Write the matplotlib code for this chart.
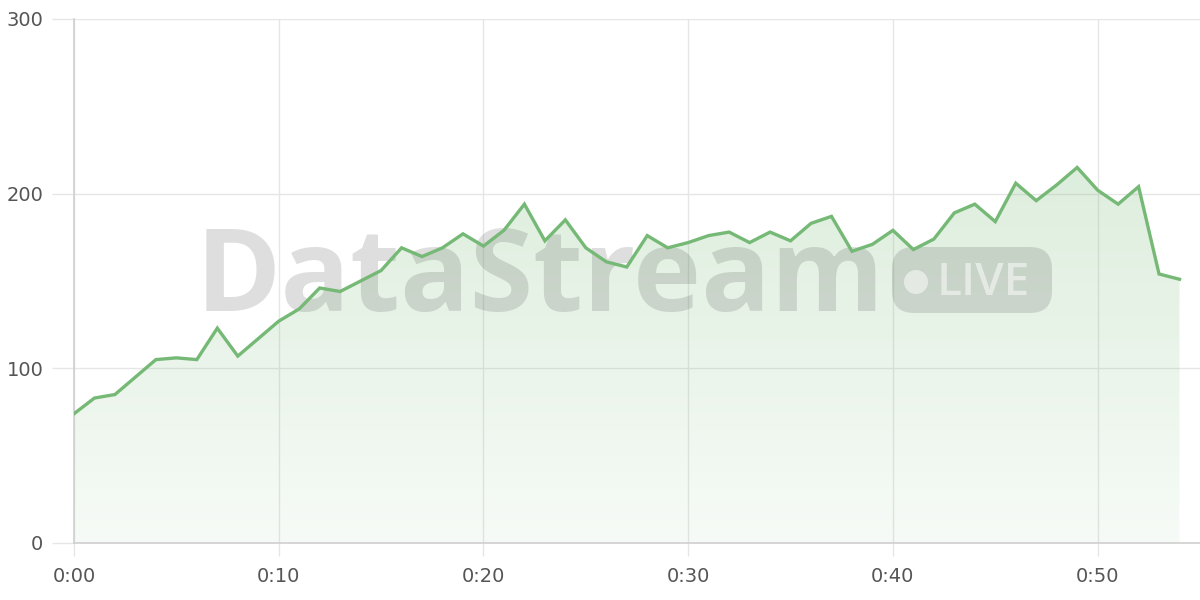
import matplotlib
matplotlib.use("Agg")
import matplotlib.pyplot as plt
import numpy as np
from matplotlib.patches import FancyBboxPatch, Circle
from matplotlib.colors import LinearSegmentedColormap
from matplotlib.transforms import IdentityTransform

minutes = list(range(55))
values = [74, 83, 85, 95, 105, 106, 105, 123, 107, 117,
          127, 134, 146, 144, 150, 156, 169, 164, 169, 177,
          170, 179, 194, 173, 185, 169, 161, 158, 176, 169,
          172, 176, 178, 172, 178, 173, 183, 187, 167, 171,
          179, 168, 174, 189, 194, 184, 206, 196, 205, 215,
          202, 194, 204, 154, 151]
x_ticks = [0, 10, 20, 30, 40, 50]
x_labels = ["0:00", "0:10", "0:20", "0:30", "0:40", "0:50"]
y_ticks = [0, 100, 200, 300]

line_color = "#76b976"
grid_color = "#e6e6e6"
spine_color = "#cfcfcf"
label_color = "#555555"

fig = plt.figure(figsize=(12, 6), dpi=100)
ax = fig.add_axes([74/1200, 57/600, 1126/1200, 524/600])
ax.set_xlim(0, 55)
ax.set_ylim(0, 300)

x = np.array(minutes, dtype=float)
y = np.array(values, dtype=float)

# gradient fill
poly = ax.fill_between(x, y, 0, color="none", lw=0)
top = float(y.max())
cmap = LinearSegmentedColormap.from_list(
    "g", [(0.45, 0.72, 0.45, 0.06), (0.45, 0.72, 0.45, 0.24)])
grad = np.linspace(0, 1, 256).reshape(-1, 1)
im = ax.imshow(grad, cmap=cmap, aspect="auto", origin="lower",
               extent=(0, x.max(), 0, top), zorder=1)
path = poly.get_paths()[0]
im.set_clip_path(path, transform=ax.transData)

ax.plot(x, y, color=line_color, lw=2.4, zorder=5, solid_joinstyle="miter")

ax.set_xticks(x_ticks)
ax.set_xticklabels(x_labels)
ax.set_yticks(y_ticks)
ax.grid(True, color=grid_color, lw=1.0, zorder=0)
ax.set_axisbelow(True)
ax.tick_params(axis="y", length=16, color=grid_color, width=1.0,
               labelsize=14, labelcolor=label_color, pad=6)
ax.tick_params(axis="x", length=9, color=grid_color, width=1.0,
               labelsize=14, labelcolor=label_color, pad=8)
for s in ["top", "right"]:
    ax.spines[s].set_visible(False)
ax.spines["left"].set_color(spine_color)
ax.spines["bottom"].set_color(spine_color)
ax.spines["left"].set_linewidth(1.2)
ax.spines["bottom"].set_linewidth(1.2)

# watermark (pixel coordinates, origin bottom-left), drawn beneath the line
H = 600
wm_color = (0.3, 0.3, 0.3, 0.18)
ax.text(540, H - 311, "DataStream", fontsize=83, fontweight="bold",
        family="Open Sans", color=wm_color, ha="center", va="baseline",
        transform=IdentityTransform(), zorder=3, clip_on=False)
box = FancyBboxPatch((892, H - 313), 160, 66,
                     boxstyle="round,pad=0,rounding_size=22",
                     transform=IdentityTransform(), facecolor=wm_color,
                     edgecolor="none", zorder=3, clip_on=False)
ax.add_artist(box)
ax.text(983, H - 295, "LIVE", fontsize=33, fontweight="semibold",
        family="Open Sans", color=(1, 1, 1, 0.5), ha="center",
        va="baseline", transform=IdentityTransform(), zorder=3, clip_on=False)
dot = Circle((916, H - 282), 12, transform=IdentityTransform(),
             facecolor=(1, 1, 1, 0.5), edgecolor="none", zorder=3, clip_on=False)
ax.add_artist(dot)

fig.savefig("out.png", dpi=100)
